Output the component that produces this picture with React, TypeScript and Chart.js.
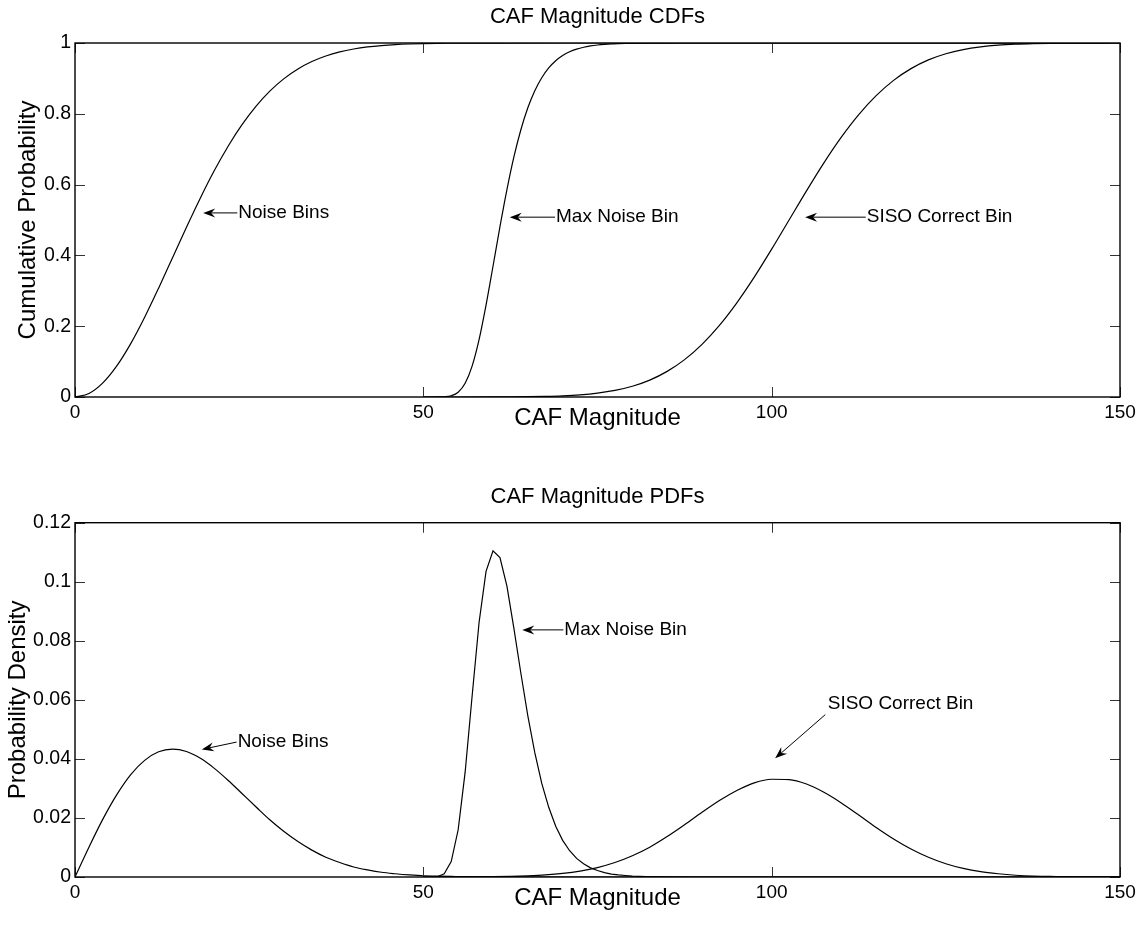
import { useEffect, useRef } from "react";
import { Chart, registerables } from "chart.js";

Chart.register(...registerables);

const FONT = '"Liberation Sans", Arial, Helvetica, sans-serif';

// Shared axis ticks
const xTicks = [0, 50, 100, 150];
const cdfTicks = [0, 0.2, 0.4, 0.6, 0.8, 1];
const pdfTicks = [0, 0.02, 0.04, 0.06, 0.08, 0.1, 0.12];

// Noise bins
const noiseX = [0, 2, 4, 6, 8, 10, 12, 14, 16, 18, 20, 22, 24, 26, 28, 30, 32, 34, 36, 38, 40, 42, 44, 46, 48, 50, 52, 54, 56, 58, 60, 70, 80, 90, 100, 110, 120, 130, 140, 150];
const noisePdf = [0, 0.0101, 0.0196, 0.0279, 0.0347, 0.0395, 0.0424, 0.0433, 0.0425, 0.0402, 0.0368, 0.0327, 0.0282, 0.0237, 0.0193, 0.0154, 0.012, 0.0091, 0.0067, 0.0049, 0.0034, 0.0024, 0.0016, 0.0011, 0.0007, 0.0004, 0.0003, 0.0002, 0.0001, 0.00005, 0.00003, 0, 0, 0, 0, 0, 0, 0, 0, 0];
const noiseCdf = [0, 0.0101, 0.04, 0.0878, 0.1507, 0.2252, 0.3075, 0.3935, 0.4796, 0.5624, 0.6396, 0.7091, 0.7699, 0.8217, 0.8647, 0.8993, 0.9266, 0.9476, 0.9633, 0.9749, 0.9831, 0.9889, 0.9928, 0.9955, 0.9972, 0.9983, 0.999, 0.9994, 0.9997, 0.9998, 0.9999, 1, 1, 1, 1, 1, 1, 1, 1, 1];

// Max noise bin
const maxX = [50, 51, 52, 53, 54, 55, 56, 57, 58, 59, 60, 61, 62, 63, 64, 65, 66, 67, 68, 69, 70, 71, 72, 73, 74, 75, 76, 77, 78, 79, 80, 82, 85, 90, 100, 150];
const maxPdf = [0, 0.00001, 0.0001, 0.0011, 0.0052, 0.016, 0.0355, 0.0612, 0.0862, 0.1035, 0.1105, 0.1082, 0.0985, 0.0842, 0.069, 0.0546, 0.0421, 0.0317, 0.0236, 0.0172, 0.0124, 0.0089, 0.0063, 0.0045, 0.0031, 0.0022, 0.0015, 0.001, 0.0007, 0.0005, 0.0003, 0.00014, 0.00004, 0, 0, 0];
const maxCdf = [0, 0, 0.0001, 0.0006, 0.0034, 0.0133, 0.0386, 0.0872, 0.162, 0.2595, 0.3694, 0.4811, 0.5858, 0.6781, 0.755, 0.8169, 0.8651, 0.9019, 0.9295, 0.9498, 0.9645, 0.9751, 0.9826, 0.988, 0.9917, 0.9943, 0.9961, 0.9974, 0.9982, 0.9988, 0.9992, 0.9997, 0.9999, 1, 1, 1];

// SISO correct bin
const sisoX = [50, 55, 60, 62.5, 65, 67.5, 70, 72.5, 75, 77.5, 80, 82.5, 85, 87.5, 90, 92.5, 95, 97.5, 100, 102.5, 105, 107.5, 110, 112.5, 115, 117.5, 120, 122.5, 125, 127.5, 130, 132.5, 135, 137.5, 140, 142.5, 145, 147.5, 150];
const sisoPdf = [0, 0.00002, 0.0001, 0.0002, 0.0004, 0.0007, 0.0012, 0.002, 0.0032, 0.0049, 0.0072, 0.0101, 0.0137, 0.0177, 0.0219, 0.0259, 0.0293, 0.0319, 0.0331, 0.033, 0.0315, 0.0287, 0.0251, 0.021, 0.0168, 0.0129, 0.0095, 0.0067, 0.0045, 0.0029, 0.0018, 0.0011, 0.0006, 0.0003, 0.0002, 0.0001, 0.00004, 0.00002, 0.00001];
const sisoCdf = [0, 0.00004, 0.0002, 0.0004, 0.0009, 0.0018, 0.0034, 0.0062, 0.011, 0.0186, 0.0304, 0.0478, 0.0724, 0.1056, 0.1488, 0.2023, 0.266, 0.3385, 0.4176, 0.5, 0.5824, 0.6615, 0.734, 0.7977, 0.8512, 0.8944, 0.9276, 0.9522, 0.9696, 0.9814, 0.989, 0.9938, 0.9966, 0.9982, 0.9991, 0.9996, 0.9998, 0.9999, 1];

type Note = { text: string; tx: number; ty: number; sx: number; sy: number; ex: number; ey: number };

// Labelled arrows, in data coordinates
const cdfNotes: Note[] = [
  { text: "Noise Bins", tx: 23.3, ty: 0.52, sx: 23.3, sy: 0.52, ex: 18.4, ey: 0.52 },
  { text: "Max Noise Bin", tx: 68.9, ty: 0.508, sx: 68.9, sy: 0.508, ex: 62.4, ey: 0.508 },
  { text: "SISO Correct Bin", tx: 113.5, ty: 0.508, sx: 113.5, sy: 0.508, ex: 104.8, ey: 0.508 },
];
const pdfNotes: Note[] = [
  { text: "Noise Bins", tx: 23.2, ty: 0.0457, sx: 23.2, sy: 0.0457, ex: 18.2, ey: 0.0432 },
  { text: "Max Noise Bin", tx: 70.1, ty: 0.0837, sx: 70.1, sy: 0.0837, ex: 64.2, ey: 0.0837 },
  { text: "SISO Correct Bin", tx: 107.9, ty: 0.0587, sx: 107.7, sy: 0.055, ex: 100.5, ey: 0.0402 },
];

const pts = (xs: number[], ys: number[]) => xs.map((x, i) => ({ x, y: ys[i] }));

function line(xs: number[], ys: number[], smooth: boolean) {
  return {
    data: pts(xs, ys),
    borderColor: "#000",
    borderWidth: 1.2,
    pointRadius: 0,
    fill: false,
    tension: 0,
    cubicInterpolationMode: smooth ? "monotone" : "default",
  };
}

function drawArrow(ctx: CanvasRenderingContext2D, x0: number, y0: number, x1: number, y1: number) {
  const ang = Math.atan2(y1 - y0, x1 - x0);
  const L = 12, W = 4.5, N = 8;
  ctx.beginPath();
  ctx.moveTo(x0, y0);
  ctx.lineTo(x1 - Math.cos(ang) * N, y1 - Math.sin(ang) * N);
  ctx.stroke();
  ctx.save();
  ctx.translate(x1, y1);
  ctx.rotate(ang);
  ctx.beginPath();
  ctx.moveTo(0, 0);
  ctx.lineTo(-L, -W);
  ctx.lineTo(-N, 0);
  ctx.lineTo(-L, W);
  ctx.closePath();
  ctx.fill();
  ctx.restore();
}

function framePlugin(title: string, xTitle: string, yTitle: string, yTitleX: number, notes: Note[]) {
  return {
    id: "frame",
    afterDatasetsDraw(chart: any) {
      const { ctx, chartArea: a, scales } = chart;
      const xs = scales.x, ys = scales.y;
      ctx.save();
      // inward ticks on all four sides
      ctx.strokeStyle = "#333";
      ctx.lineWidth = 1;
      for (const t of xs.ticks) {
        const px = Math.round(xs.getPixelForValue(t.value)) + 0.5;
        ctx.beginPath();
        ctx.moveTo(px, a.bottom); ctx.lineTo(px, a.bottom - 10);
        ctx.moveTo(px, a.top); ctx.lineTo(px, a.top + 10);
        ctx.stroke();
      }
      for (const t of ys.ticks) {
        const py = Math.round(ys.getPixelForValue(t.value)) + 0.5;
        ctx.beginPath();
        ctx.moveTo(a.left, py); ctx.lineTo(a.left + 10, py);
        ctx.moveTo(a.right, py); ctx.lineTo(a.right - 10, py);
        ctx.stroke();
      }
      // axes box
      ctx.strokeStyle = "#000";
      ctx.lineWidth = 1.4;
      ctx.strokeRect(a.left, a.top, a.right - a.left, a.bottom - a.top);

      ctx.fillStyle = "#000";
      // title
      ctx.font = `22px ${FONT}`;
      ctx.textAlign = "center";
      ctx.textBaseline = "middle";
      ctx.fillText(title, (a.left + a.right) / 2, a.top - 26);
      // x title
      ctx.font = `24px ${FONT}`;
      ctx.fillText(xTitle, (a.left + a.right) / 2, a.bottom + 21);
      // y title
      ctx.save();
      ctx.translate(yTitleX, (a.top + a.bottom) / 2);
      ctx.rotate(-Math.PI / 2);
      ctx.textBaseline = "alphabetic";
      ctx.fillText(yTitle, 0, 0);
      ctx.restore();

      // annotations
      ctx.font = `19px ${FONT}`;
      ctx.textAlign = "left";
      ctx.textBaseline = "middle";
      ctx.lineWidth = 1;
      ctx.strokeStyle = "#000";
      for (const n of notes) {
        ctx.fillText(n.text, xs.getPixelForValue(n.tx) + 1, ys.getPixelForValue(n.ty));
        drawArrow(ctx, xs.getPixelForValue(n.sx), ys.getPixelForValue(n.sy), xs.getPixelForValue(n.ex), ys.getPixelForValue(n.ey));
      }
      ctx.restore();
    },
  };
}

function makeConfig(
  datasets: any[],
  yMax: number,
  yTicks: number[],
  padTop: number,
  xAxisHeight: number,
  plugin: any
) {
  return {
    type: "line",
    data: { datasets },
    options: {
      animation: false,
      responsive: false,
      layout: { padding: { top: padTop, right: 22, left: 0, bottom: 0 } },
      plugins: { legend: { display: false }, tooltip: { enabled: false }, title: { display: false } },
      scales: {
        x: {
          type: "linear",
          min: 0,
          max: 150,
          grid: { display: false, drawTicks: false },
          border: { display: false },
          afterBuildTicks: (s: any) => { s.ticks = xTicks.map((v) => ({ value: v })); },
          afterFit: (s: any) => { s.height = xAxisHeight; },
          ticks: { autoSkip: false, maxRotation: 0, padding: 4, color: "#000", font: { family: FONT, size: 19 }, callback: (v: any) => String(v) },
        },
        y: {
          type: "linear",
          min: 0,
          max: yMax,
          grid: { display: false, drawTicks: false },
          border: { display: false },
          afterBuildTicks: (s: any) => { s.ticks = yTicks.map((v) => ({ value: v })); },
          afterFit: (s: any) => { s.width = 75; },
          ticks: { autoSkip: false, padding: 4, color: "#000", font: { family: FONT, size: 19.5 }, callback: (v: any) => String(v) },
        },
      },
    },
    plugins: [plugin],
  };
}

export default function App() {
  const topRef = useRef<HTMLCanvasElement | null>(null);
  const botRef = useRef<HTMLCanvasElement | null>(null);

  useEffect(() => {
    const top = new Chart(
      topRef.current as HTMLCanvasElement,
      makeConfig(
        [line(noiseX, noiseCdf, true), line(maxX, maxCdf, true), line(sisoX, sisoCdf, true)],
        1,
        cdfTicks,
        43,
        73,
        framePlugin("CAF Magnitude CDFs", "CAF Magnitude", "Cumulative Probability", 35, cdfNotes)
      ) as any
    );
    const bot = new Chart(
      botRef.current as HTMLCanvasElement,
      makeConfig(
        [line(noiseX, noisePdf, true), line(maxX, maxPdf, false), line(sisoX, sisoPdf, true)],
        0.12,
        pdfTicks,
        52.7,
        60,
        framePlugin("CAF Magnitude PDFs", "CAF Magnitude", "Probability Density", 25, pdfNotes)
      ) as any
    );
    return () => {
      top.destroy();
      bot.destroy();
    };
  }, []);

  return (
    <div style={{ position: "absolute", left: 0, top: 0, width: 1142, height: 937, background: "#fff" }}>
      <canvas ref={topRef} width={1142} height={470} style={{ position: "absolute", left: 0, top: 0 }} />
      <canvas ref={botRef} width={1142} height={467} style={{ position: "absolute", left: 0, top: 470 }} />
    </div>
  );
}
